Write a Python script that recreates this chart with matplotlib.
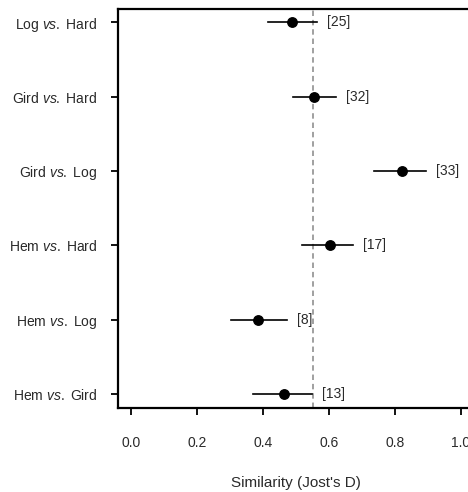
import matplotlib
matplotlib.use("Agg")
import matplotlib.pyplot as plt

plt.rcParams['font.family'] = ['Liberation Sans', 'DejaVu Sans']
plt.rcParams['mathtext.fontset'] = 'custom'
plt.rcParams['mathtext.rm'] = 'Liberation Sans'
plt.rcParams['mathtext.it'] = 'Liberation Sans:italic'

# pairwise comparisons, bottom to top
pairs = [("Hem", "Gird"), ("Hem", "Log"), ("Hem", "Hard"),
         ("Gird", "Log"), ("Gird", "Hard"), ("Log", "Hard")]
jost_d = [0.465, 0.384, 0.603, 0.823, 0.555, 0.488]
ci_low = [0.371, 0.303, 0.519, 0.737, 0.492, 0.415]
ci_high = [0.548, 0.472, 0.672, 0.894, 0.621, 0.563]
n_loci = [13, 8, 17, 33, 32, 25]
overall = 0.552

fig = plt.figure(figsize=(4.68, 4.92), dpi=100)
ax = fig.add_axes([0.2521, 0.1707, 0.7607, 0.811])

ypos = list(range(1, len(pairs) + 1))
ax.axvline(overall, color="#a0a0a0", lw=1.4, ls=(0, (2.8, 2.0)), zorder=1)
for y, d, lo, hi, n in zip(ypos, jost_d, ci_low, ci_high, n_loci):
    ax.plot([lo, hi], [y, y], color="black", lw=1.2, zorder=2)
    ax.plot(d, y, "o", color="black", ms=6.8, zorder=3)
    ax.text(hi + 0.032, y, "[%d]" % n, va="center", ha="left",
            fontsize=10, color="#2a2a2a")

labels = [r"%s $\mathit{vs.}$ %s" % p for p in pairs]
ax.set_yticks(ypos)
ax.set_yticklabels(labels, fontsize=10, color="#2a2a2a")
ax.set_xticks([0, 0.2, 0.4, 0.6, 0.8, 1.0])
ax.set_xticklabels(["0.0", "0.2", "0.4", "0.6", "0.8", "1.0"],
                   fontsize=10, color="#2a2a2a")
ax.set_xlim(-0.04, 1.04)
ax.set_ylim(0.81, 6.18)

ax.tick_params(axis="x", length=5, width=1.3, pad=15)
ax.tick_params(axis="y", length=5, width=1.3, pad=10)
for s in ax.spines.values():
    s.set_linewidth(1.6)

ax.set_xlabel("Similarity (Jost's D)", fontsize=11, color="#2a2a2a",
              labelpad=19)

fig.savefig("out.png", dpi=100)
